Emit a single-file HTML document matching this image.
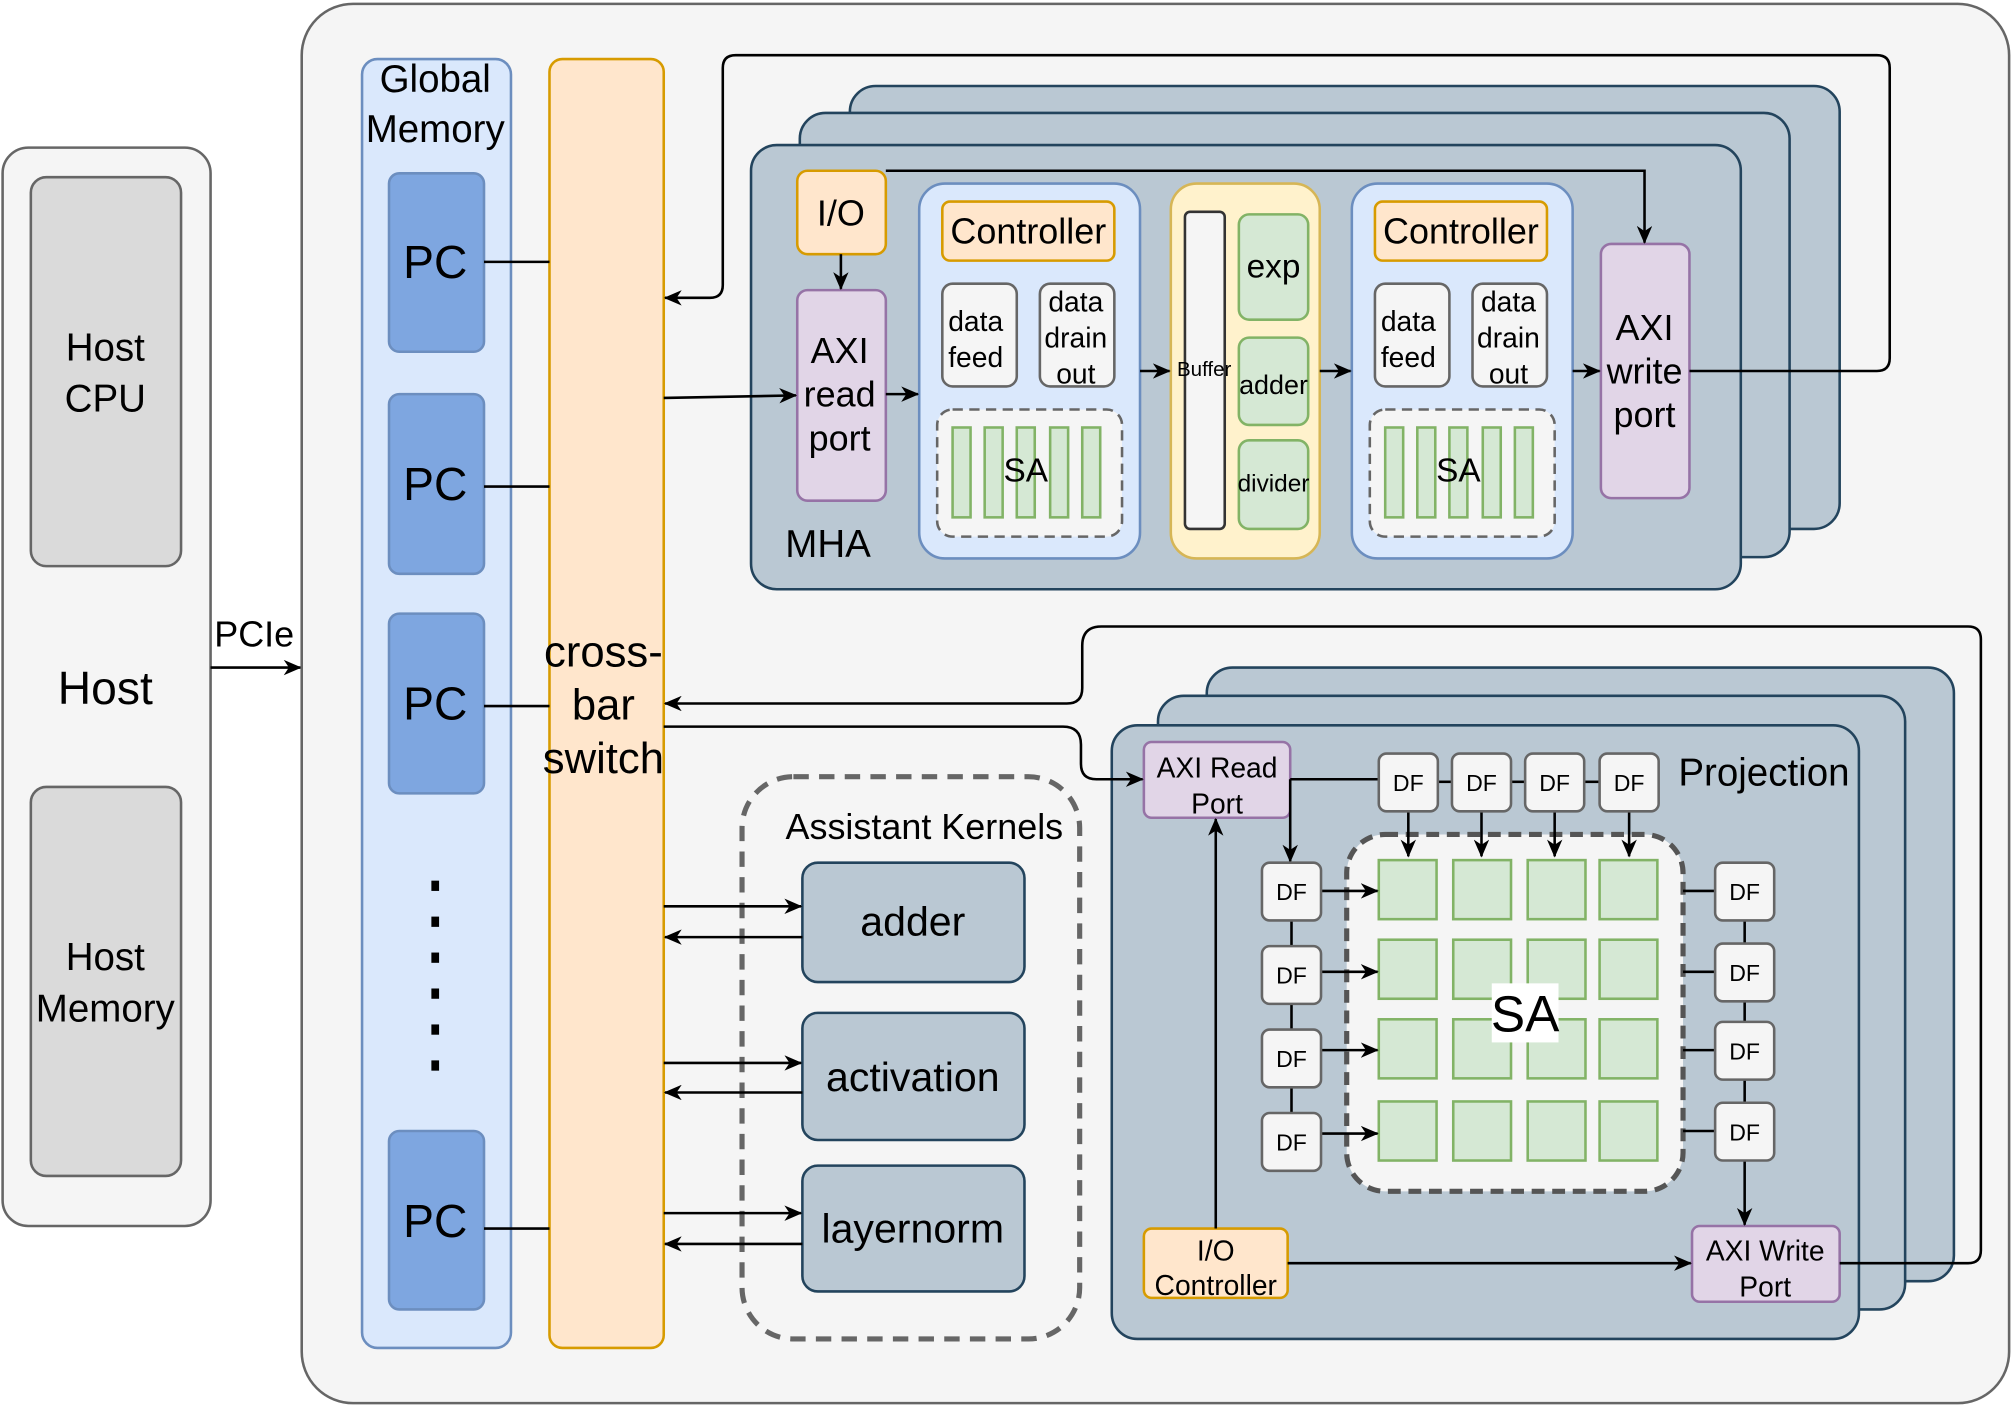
<!DOCTYPE html>
<html><head><meta charset="utf-8"><style>
html,body{margin:0;padding:0;background:#fff}
svg{display:block}
text{font-family:"Liberation Sans",Arial,sans-serif;fill:#000;text-anchor:middle;dominant-baseline:central}
</style></head><body>
<svg width="2013" height="1407" viewBox="0 0 1568 1096" xmlns="http://www.w3.org/2000/svg">
<defs>
<marker id="a" markerWidth="14" markerHeight="12" refX="13" refY="6" orient="auto" markerUnits="userSpaceOnUse" viewBox="0 0 14 12">
<path d="M0,0 L14,6 L0,12 L4,6 z" fill="#000"/></marker>
</defs>
<g stroke-width="2">
<rect x="2" y="115" width="162" height="840" rx="20" fill="#f5f5f5" stroke="#666"/>
<rect x="24" y="138" width="117" height="303" rx="12" fill="#dadada" stroke="#666"/>
<rect x="24" y="613" width="117" height="303" rx="12" fill="#dadada" stroke="#666"/>
<text x="82" y="271" font-size="30" fill="#333">Host</text>
<text x="82" y="311" font-size="30" fill="#333">CPU</text>
<text x="82" y="746" font-size="30" fill="#333">Host</text>
<text x="82" y="786" font-size="30" fill="#333">Memory</text>
<text x="82" y="536" font-size="36">Host</text>
<line x1="164" y1="520" x2="234" y2="520" stroke="#000" marker-end="url(#a)"/>
<text x="198" y="494" font-size="28">PCIe</text>

<rect x="235" y="3" width="1330" height="1090" rx="40" fill="#f5f5f5" stroke="#666"/>

<rect x="282" y="46" width="116" height="1004" rx="12" fill="#dae8fc" stroke="#6c8ebf"/>
<text x="339" y="62" font-size="30">Global</text>
<text x="339" y="101" font-size="30">Memory</text>
<rect x="303" y="135" width="74" height="139" rx="8" fill="#7ea6e0" stroke="#6c8ebf"/>
<rect x="303" y="307" width="74" height="140" rx="8" fill="#7ea6e0" stroke="#6c8ebf"/>
<rect x="303" y="478" width="74" height="140" rx="8" fill="#7ea6e0" stroke="#6c8ebf"/>
<rect x="303" y="881" width="74" height="139" rx="8" fill="#7ea6e0" stroke="#6c8ebf"/>
<text x="339" y="204" font-size="36">PC</text>
<text x="339" y="377" font-size="36">PC</text>
<text x="339" y="548" font-size="36">PC</text>
<text x="339" y="951" font-size="36">PC</text>
<g fill="#000" stroke="none">
<rect x="336" y="686" width="6" height="8"/><rect x="336" y="714" width="6" height="8"/><rect x="336" y="742" width="6" height="8"/><rect x="336" y="770" width="6" height="8"/><rect x="336" y="798" width="6" height="8"/><rect x="336" y="826" width="6" height="8"/>
</g>

<rect x="428" y="46" width="89" height="1004" rx="10" fill="#ffe6cc" stroke="#d79b00"/>
<text x="470" y="508" font-size="34">cross-</text>
<text x="470" y="549" font-size="34">bar</text>
<text x="470" y="591" font-size="34">switch</text>
<g stroke="#000">
<line x1="377" y1="204" x2="428" y2="204"/><line x1="377" y1="379" x2="428" y2="379"/>
<line x1="377" y1="550" x2="428" y2="550"/><line x1="377" y1="957" x2="428" y2="957"/>
</g>

<rect x="662" y="67" width="771" height="345" rx="20" fill="#bac8d3" stroke="#23445d"/>
<rect x="623" y="88" width="771" height="346" rx="20" fill="#bac8d3" stroke="#23445d"/>
<rect x="585" y="113" width="771" height="346" rx="20" fill="#bac8d3" stroke="#23445d"/>
<text x="645" y="424" font-size="30">MHA</text>
<rect x="621" y="133" width="69" height="65" rx="8" fill="#ffe6cc" stroke="#d79b00"/>
<text x="655" y="166" font-size="28">I/O</text>
<rect x="621" y="226" width="69" height="164" rx="8" fill="#e1d5e7" stroke="#9673a6"/>
<text x="654" y="273" font-size="28">AXI</text><text x="654" y="307" font-size="28">read</text><text x="654" y="341" font-size="28">port</text>

<g id="ctl">
<rect x="716" y="143" width="172" height="292" rx="20" fill="#dae8fc" stroke="#6c8ebf"/>
<rect x="734" y="157" width="134" height="46" rx="6" fill="#ffe6cc" stroke="#d79b00"/>
<text x="801" y="180" font-size="28">Controller</text>
<rect x="734" y="221" width="58" height="80" rx="8" fill="#f5f5f5" stroke="#666"/>
<text x="760" y="250" font-size="22" fill="#333">data</text><text x="760" y="278" font-size="22" fill="#333">feed</text>
<rect x="810" y="221" width="58" height="80" rx="8" fill="#f5f5f5" stroke="#666"/>
<text x="838" y="235" font-size="22" fill="#333">data</text><text x="838" y="263" font-size="22" fill="#333">drain</text><text x="838" y="291" font-size="22" fill="#333">out</text>
<rect x="730" y="319" width="144" height="99" rx="12" fill="#f5f5f5" stroke="#666" stroke-dasharray="8 5"/>
<g fill="#d5e8d4" stroke="#82b366">
<rect x="742" y="333" width="14" height="70"/><rect x="767" y="333" width="14" height="70"/><rect x="792" y="333" width="14" height="70"/><rect x="818" y="333" width="14" height="70"/><rect x="843" y="333" width="14" height="70"/>
</g>
<text x="799" y="367" font-size="26">SA</text>
</g>
<use href="#ctl" transform="translate(337,0)"/>

<rect x="912" y="143" width="116" height="292" rx="20" fill="#fff2cc" stroke="#d6b656"/>
<rect x="923" y="165" width="31" height="247" rx="4" fill="#f5f5f5" stroke="#333"/>
<text x="938" y="288" font-size="16">Buffer</text>
<rect x="965" y="167" width="54" height="82" rx="8" fill="#d5e8d4" stroke="#82b366"/>
<text x="992" y="208" font-size="26">exp</text>
<rect x="965" y="263" width="54" height="68" rx="8" fill="#d5e8d4" stroke="#82b366"/>
<text x="992" y="300" font-size="21">adder</text>
<rect x="965" y="343" width="54" height="69" rx="8" fill="#d5e8d4" stroke="#82b366"/>
<text x="992" y="377" font-size="19">divider</text>

<rect x="1247" y="190" width="69" height="198" rx="8" fill="#e1d5e7" stroke="#9673a6"/>
<text x="1281" y="255" font-size="28">AXI</text><text x="1281" y="289" font-size="28">write</text><text x="1281" y="323" font-size="28">port</text>

<g stroke="#000" fill="none">
<line x1="655" y1="198" x2="655" y2="225" marker-end="url(#a)"/>
<line x1="690" y1="307" x2="715" y2="307" marker-end="url(#a)"/>
<line x1="888" y1="289" x2="911" y2="289" marker-end="url(#a)"/>
<line x1="1028" y1="289" x2="1052" y2="289" marker-end="url(#a)"/>
<line x1="1225" y1="289" x2="1246" y2="289" marker-end="url(#a)"/>
<path d="M690,133 H1281 V189" marker-end="url(#a)"/>
<path d="M1316,289 H1462 Q1472,289 1472,279 V53 Q1472,43 1462,43 H573 Q563,43 563,53 V222 Q563,232 553,232 H518" marker-end="url(#a)"/>
<line x1="517" y1="310" x2="620" y2="308" marker-end="url(#a)"/>
</g>

<rect x="940" y="520" width="582" height="478" rx="20" fill="#bac8d3" stroke="#23445d"/>
<rect x="902" y="542" width="582" height="478" rx="20" fill="#bac8d3" stroke="#23445d"/>
<rect x="866" y="565" width="582" height="478" rx="20" fill="#bac8d3" stroke="#23445d"/>
<text x="1374" y="602" font-size="30">Projection</text>
<rect x="891" y="578" width="114" height="59" rx="6" fill="#e1d5e7" stroke="#9673a6"/>
<text x="948" y="598" font-size="22">AXI Read</text><text x="948" y="626" font-size="22">Port</text>
<rect x="1318" y="955" width="115" height="59" rx="6" fill="#e1d5e7" stroke="#9673a6"/>
<text x="1375" y="974" font-size="22">AXI Write</text><text x="1375" y="1002" font-size="22">Port</text>
<rect x="891" y="957" width="112" height="54" rx="6" fill="#ffe6cc" stroke="#d79b00"/>
<text x="947" y="974" font-size="22">I/O</text><text x="947" y="1001" font-size="22">Controller</text>

<rect x="1049" y="650" width="262" height="278" rx="30" fill="#f5f5f5" stroke="#555" stroke-width="4" stroke-dasharray="10 6"/>
<g fill="#d5e8d4" stroke="#82b366">
<rect x="1074" y="670" width="45" height="46"/><rect x="1132" y="670" width="45" height="46"/><rect x="1190" y="670" width="45" height="46"/><rect x="1246" y="670" width="45" height="46"/>
<rect x="1074" y="732" width="45" height="46"/><rect x="1132" y="732" width="45" height="46"/><rect x="1190" y="732" width="45" height="46"/><rect x="1246" y="732" width="45" height="46"/>
<rect x="1074" y="794" width="45" height="46"/><rect x="1132" y="794" width="45" height="46"/><rect x="1190" y="794" width="45" height="46"/><rect x="1246" y="794" width="45" height="46"/>
<rect x="1074" y="858" width="45" height="46"/><rect x="1132" y="858" width="45" height="46"/><rect x="1190" y="858" width="45" height="46"/><rect x="1246" y="858" width="45" height="46"/>
</g>
<rect x="1162" y="766" width="52" height="46" fill="#fff" stroke="none"/>
<text x="1188" y="790" font-size="40">SA</text>

<g stroke="#000" fill="none">
<line x1="1005" y1="607" x2="1074" y2="607"/>
<line x1="1120" y1="609" x2="1131" y2="609"/><line x1="1177" y1="609" x2="1188" y2="609"/><line x1="1234" y1="609" x2="1246" y2="609"/>
<line x1="1097" y1="632" x2="1097" y2="667" marker-end="url(#a)"/>
<line x1="1154" y1="632" x2="1154" y2="667" marker-end="url(#a)"/>
<line x1="1211" y1="632" x2="1211" y2="667" marker-end="url(#a)"/>
<line x1="1269" y1="632" x2="1269" y2="667" marker-end="url(#a)"/>
<path d="M1005,607 V671" marker-end="url(#a)"/>
<line x1="1006" y1="717" x2="1006" y2="737"/><line x1="1006" y1="782" x2="1006" y2="802"/><line x1="1006" y1="847" x2="1006" y2="867"/>
<line x1="1029" y1="694" x2="1073" y2="694" marker-end="url(#a)"/>
<line x1="1029" y1="757" x2="1073" y2="757" marker-end="url(#a)"/>
<line x1="1029" y1="818" x2="1073" y2="818" marker-end="url(#a)"/>
<line x1="1029" y1="883" x2="1073" y2="883" marker-end="url(#a)"/>
<line x1="1311" y1="694" x2="1336" y2="694"/><line x1="1311" y1="757" x2="1336" y2="757"/>
<line x1="1311" y1="818" x2="1336" y2="818"/><line x1="1311" y1="881" x2="1336" y2="881"/>
<line x1="1359" y1="717" x2="1359" y2="735"/><line x1="1359" y1="780" x2="1359" y2="796"/><line x1="1359" y1="841" x2="1359" y2="859"/>
<line x1="1359" y1="904" x2="1359" y2="954" marker-end="url(#a)"/>
<line x1="1003" y1="984" x2="1317" y2="984" marker-end="url(#a)"/>
<line x1="947" y1="957" x2="947" y2="638" marker-end="url(#a)"/>
<path d="M1433,984 H1533 Q1543,984 1543,974 V498 Q1543,488 1533,488 H858 Q843,488 843,503 V536 Q843,548 831,548 H518" marker-end="url(#a)"/>
<path d="M517,566 H828 Q842,566 842,580 V595 Q842,607 854,607 H890" marker-end="url(#a)"/>
</g>
<g fill="#f5f5f5" stroke="#666">
<rect x="1074" y="587" width="46" height="45" rx="6"/><rect x="1131" y="587" width="46" height="45" rx="6"/><rect x="1188" y="587" width="46" height="45" rx="6"/><rect x="1246" y="587" width="46" height="45" rx="6"/>
<rect x="983" y="672" width="46" height="45" rx="6"/><rect x="983" y="737" width="46" height="45" rx="6"/><rect x="983" y="802" width="46" height="45" rx="6"/><rect x="983" y="867" width="46" height="45" rx="6"/>
<rect x="1336" y="672" width="46" height="45" rx="6"/><rect x="1336" y="735" width="46" height="45" rx="6"/><rect x="1336" y="796" width="46" height="45" rx="6"/><rect x="1336" y="859" width="46" height="45" rx="6"/>
</g>
<g font-size="18">
<text x="1097" y="610">DF</text><text x="1154" y="610">DF</text><text x="1211" y="610">DF</text><text x="1269" y="610">DF</text>
<text x="1006" y="695">DF</text><text x="1006" y="760">DF</text><text x="1006" y="825">DF</text><text x="1006" y="890">DF</text>
<text x="1359" y="695">DF</text><text x="1359" y="758">DF</text><text x="1359" y="819">DF</text><text x="1359" y="882">DF</text>
</g>

<rect x="578" y="605" width="263" height="438" rx="40" fill="none" stroke="#666" stroke-width="4" stroke-dasharray="12 8"/>
<text x="720" y="644" font-size="28">Assistant Kernels</text>
<rect x="625" y="672" width="173" height="93" rx="12" fill="#bac8d3" stroke="#23445d"/>
<rect x="625" y="789" width="173" height="99" rx="12" fill="#bac8d3" stroke="#23445d"/>
<rect x="625" y="908" width="173" height="98" rx="12" fill="#bac8d3" stroke="#23445d"/>
<text x="711" y="718" font-size="32">adder</text>
<text x="711" y="839" font-size="32">activation</text>
<text x="711" y="957" font-size="32">layernorm</text>
<g stroke="#000">
<line x1="517" y1="706" x2="624" y2="706" marker-end="url(#a)"/>
<line x1="625" y1="730" x2="518" y2="730" marker-end="url(#a)"/>
<line x1="517" y1="828" x2="624" y2="828" marker-end="url(#a)"/>
<line x1="625" y1="851" x2="518" y2="851" marker-end="url(#a)"/>
<line x1="517" y1="945" x2="624" y2="945" marker-end="url(#a)"/>
<line x1="625" y1="969" x2="518" y2="969" marker-end="url(#a)"/>
</g>
</g>
</svg>
</body></html>
